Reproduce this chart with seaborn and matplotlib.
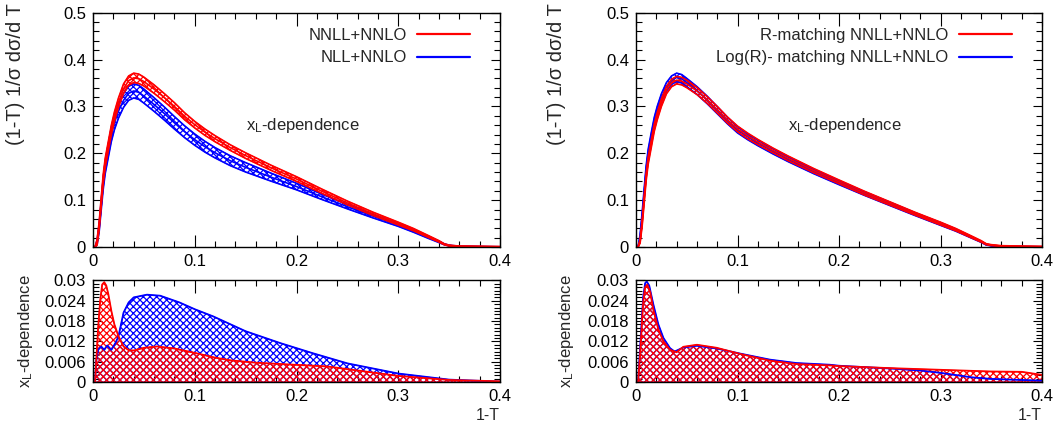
import numpy as np
import matplotlib
matplotlib.use("Agg")
import matplotlib.pyplot as plt
import seaborn as sns
from matplotlib.ticker import FixedLocator, FixedFormatter, MultipleLocator
from matplotlib.lines import Line2D

# ---------------- data ----------------
x_ticks = [0.0, 0.1, 0.2, 0.3, 0.4]
x_tick_labels = ["0", "0.1", "0.2", "0.3", "0.4"]
y_top_ticks = [0.0, 0.1, 0.2, 0.3, 0.4, 0.5]
y_top_labels = ["0", "0.1", "0.2", "0.3", "0.4", "0.5"]
y_bot_ticks = [0.0, 0.006, 0.012, 0.018, 0.024, 0.03]
y_bot_labels = ["0", "0.006", "0.012", "0.018", "0.024", "0.03"]

# top panels: common 1-T grid
x_top = [0.002, 0.004, 0.006, 0.008, 0.010, 0.012, 0.015, 0.018, 0.021, 0.025,
         0.030, 0.035, 0.040, 0.045, 0.050, 0.060, 0.070, 0.080, 0.090, 0.100,
         0.110, 0.120, 0.135, 0.150, 0.175, 0.200, 0.225, 0.250, 0.275, 0.300,
         0.315, 0.330, 0.340, 0.345, 0.350, 0.360, 0.380, 0.400]

# left top: NNLL+NNLO (red) and NLL+NNLO (blue): central value and half band width
nnll_center = [0, 0.01, 0.045, 0.095, 0.145, 0.18, 0.215, 0.25, 0.278, 0.308,
               0.338, 0.355, 0.361, 0.359, 0.353, 0.337, 0.319, 0.300, 0.279, 0.261,
               0.245, 0.231, 0.212, 0.195, 0.169, 0.145, 0.119, 0.094, 0.071, 0.050,
               0.037, 0.022, 0.012, 0.006, 0.003, 0.0015, 0.001, 0.0005]
nnll_halfwidth = [0, 0.006, 0.008, 0.009, 0.01, 0.01, 0.01, 0.01, 0.01, 0.01,
                  0.01, 0.01, 0.01, 0.01, 0.0095, 0.009, 0.0085, 0.008, 0.0075, 0.007,
                  0.0068, 0.0065, 0.006, 0.006, 0.0055, 0.005, 0.0045, 0.004, 0.0035, 0.003,
                  0.0025, 0.002, 0.0015, 0.001, 0.001, 0.0005, 0.0005, 0.0005]
nll_center = [0, 0.01, 0.04, 0.088, 0.135, 0.17, 0.205, 0.24, 0.265, 0.29,
              0.313, 0.328, 0.333, 0.330, 0.322, 0.304, 0.285, 0.265, 0.246, 0.229,
              0.214, 0.201, 0.184, 0.170, 0.149, 0.129, 0.107, 0.086, 0.066, 0.047,
              0.034, 0.020, 0.011, 0.006, 0.003, 0.0012, 0.0006, 0.0003]
nll_halfwidth = [0, 0.005, 0.008, 0.01, 0.012, 0.013, 0.014, 0.015, 0.015, 0.015,
                 0.015, 0.015, 0.015, 0.015, 0.015, 0.0145, 0.014, 0.0133, 0.0126, 0.012,
                 0.0115, 0.011, 0.0105, 0.010, 0.0085, 0.007, 0.0057, 0.0046, 0.0038, 0.003,
                 0.0025, 0.002, 0.0015, 0.001, 0.0008, 0.0005, 0.0003, 0.0002]

# right top: R-matching (red) and Log(R)-matching (blue)
rmatch_center = [0, 0.012, 0.05, 0.1, 0.15, 0.185, 0.22, 0.255, 0.28, 0.308,
                 0.335, 0.350, 0.356, 0.354, 0.348, 0.333, 0.314, 0.293, 0.271, 0.252,
                 0.237, 0.224, 0.206, 0.189, 0.163, 0.139, 0.115, 0.093, 0.071, 0.050,
                 0.037, 0.022, 0.012, 0.006, 0.004, 0.002, 0.0012, 0.0006]
rmatch_halfwidth = [0, 0.004, 0.006, 0.007, 0.008, 0.008, 0.008, 0.008, 0.008, 0.008,
                    0.008, 0.008, 0.008, 0.008, 0.008, 0.0075, 0.007, 0.007, 0.0065, 0.006,
                    0.006, 0.0055, 0.005, 0.005, 0.0045, 0.004, 0.004, 0.0035, 0.003, 0.003,
                    0.0025, 0.002, 0.0015, 0.001, 0.001, 0.0008, 0.0008, 0.0008]
logr_center = [0, 0.02, 0.065, 0.115, 0.165, 0.2, 0.235, 0.268, 0.292, 0.318,
               0.342, 0.356, 0.362, 0.359, 0.351, 0.334, 0.314, 0.292, 0.270, 0.250,
               0.235, 0.222, 0.204, 0.187, 0.161, 0.137, 0.114, 0.092, 0.070, 0.049,
               0.036, 0.021, 0.011, 0.005, 0.003, 0.0012, 0.0006, 0.0003]
logr_halfwidth = [0, 0.006, 0.008, 0.009, 0.009, 0.009, 0.009, 0.009, 0.009, 0.009,
                  0.009, 0.009, 0.009, 0.009, 0.0088, 0.0083, 0.008, 0.0075, 0.007, 0.0065,
                  0.006, 0.0058, 0.0055, 0.005, 0.0045, 0.004, 0.0038, 0.0035, 0.003, 0.0028,
                  0.0022, 0.0015, 0.001, 0.0008, 0.0006, 0.0004, 0.0003, 0.0002]

# bottom-left: x_L dependence
xl_nnll_x = [0.002, 0.0035, 0.005, 0.007, 0.009, 0.011, 0.013, 0.015, 0.018, 0.021,
             0.025, 0.030, 0.035, 0.040, 0.050, 0.063, 0.080, 0.100, 0.120, 0.135,
             0.160, 0.185, 0.230, 0.250, 0.300, 0.350, 0.400]
xl_nnll_y = [0, 0.008, 0.016, 0.024, 0.0288, 0.0295, 0.0285, 0.026, 0.021, 0.017,
             0.0135, 0.0105, 0.0094, 0.0093, 0.0101, 0.0105, 0.0099, 0.0086, 0.0072, 0.0064,
             0.0057, 0.0053, 0.0046, 0.0038, 0.0018, 0.0006, 0.0002]
xl_nll_x = [0.002, 0.003, 0.005, 0.008, 0.011, 0.014, 0.018, 0.022, 0.025, 0.030,
            0.035, 0.040, 0.053, 0.066, 0.085, 0.100, 0.118, 0.150, 0.184, 0.200,
            0.216, 0.250, 0.300, 0.350, 0.400]
xl_nll_y = [0, 0.006, 0.0095, 0.0105, 0.0095, 0.0108, 0.0095, 0.0115, 0.0135, 0.0205,
            0.0235, 0.025, 0.0258, 0.0255, 0.0235, 0.0215, 0.0194, 0.015, 0.0115, 0.010,
            0.0085, 0.0055, 0.0025, 0.0007, 0.0001]

# bottom-right: x_L dependence
xl_r_x = [0.002, 0.004, 0.007, 0.009, 0.011, 0.014, 0.017, 0.022, 0.027, 0.0335,
          0.040, 0.0466, 0.060, 0.0795, 0.1025, 0.132, 0.158, 0.191, 0.200, 0.250,
          0.300, 0.350, 0.380, 0.400]
xl_r_y = [0, 0.008, 0.0234, 0.0280, 0.0288, 0.0265, 0.0214, 0.0155, 0.012, 0.0095,
          0.0088, 0.0104, 0.011, 0.0101, 0.0083, 0.0063, 0.0053, 0.0049, 0.0047, 0.0041,
          0.0036, 0.0031, 0.003, 0.0021]
xl_logr_x = [0.002, 0.004, 0.007, 0.009, 0.0105, 0.013, 0.017, 0.022, 0.027, 0.0335,
             0.038, 0.0466, 0.060, 0.0795, 0.1025, 0.132, 0.158, 0.191, 0.200, 0.250,
             0.280, 0.300, 0.330, 0.350, 0.400]
xl_logr_y = [0, 0.01, 0.025, 0.0292, 0.0297, 0.0285, 0.023, 0.017, 0.013, 0.010,
             0.009, 0.0102, 0.0107, 0.0099, 0.0084, 0.0066, 0.0056, 0.0051, 0.0048, 0.004,
             0.0034, 0.0027, 0.0014, 0.0009, 0.0004]

legend_left = ["NNLL+NNLO", "NLL+NNLO"]
legend_right = ["R-matching NNLL+NNLO", "Log(R)- matching NNLL+NNLO"]
RED = "#ff0000"
BLUE = "#0000ff"

# ---------------- style ----------------
sns.set_style("ticks")
plt.rcParams.update({
    "font.family": ["Liberation Sans", "DejaVu Sans"],
    "mathtext.default": "regular",
    "hatch.linewidth": 0.9,
    "axes.linewidth": 1.0,
    "axes.edgecolor": "black",
})

fig = plt.figure(figsize=(10.62, 4.26), dpi=100)
ax_lt = fig.add_axes([0.0876, 0.4202, 0.3832, 0.5500])
ax_lb = fig.add_axes([0.0876, 0.1033, 0.3832, 0.2383])
ax_rt = fig.add_axes([0.5989, 0.4202, 0.3823, 0.5500])
ax_rb = fig.add_axes([0.5989, 0.1033, 0.3823, 0.2383])


def style_axes(ax, yt, yl, yminor, ylim):
    ax.set_xlim(0, 0.4)
    ax.set_ylim(*ylim)
    ax.xaxis.set_major_locator(FixedLocator(x_ticks))
    ax.xaxis.set_major_formatter(FixedFormatter(x_tick_labels))
    ax.xaxis.set_minor_locator(MultipleLocator(0.02))
    ax.yaxis.set_major_locator(FixedLocator(yt))
    ax.yaxis.set_major_formatter(FixedFormatter(yl))
    ax.yaxis.set_minor_locator(MultipleLocator(yminor))
    ax.tick_params(which="both", direction="in", top=True, right=True,
                   colors="black", labelsize=12)
    ax.tick_params(axis="x", which="major", length=9, width=0.8, pad=5)
    ax.tick_params(axis="x", which="minor", length=4, width=0.8)
    ax.tick_params(axis="y", which="major", length=6.5, width=0.8, pad=5)
    ax.tick_params(axis="y", which="minor", length=4, width=0.8)
    for s in ax.spines.values():
        s.set_visible(True)
        s.set_color("black")
        s.set_linewidth(1.0)
    ax.set_xlabel("")
    ax.set_ylabel("")


def band(ax, x, center, hw, color):
    c = np.asarray(center)
    h = np.asarray(hw)
    lo, hi = c - h, c + h
    ax.fill_between(x, lo, hi, facecolor="none", edgecolor=color,
                    hatch="xxxxx", linewidth=0.6)
    for arr in (lo, c, hi):
        sns.lineplot(x=x, y=arr, ax=ax, color=color, linewidth=1.2,
                     legend=False, sort=False, estimator=None)


def area(ax, x, y, color):
    ax.fill_between(x, 0, y, facecolor="none", edgecolor=color,
                    hatch="xxxxx", linewidth=0.6)
    sns.lineplot(x=x, y=y, ax=ax, color=color, linewidth=1.3,
                 legend=False, sort=False, estimator=None)


# ---- left top
band(ax_lt, x_top, nll_center, nll_halfwidth, BLUE)
band(ax_lt, x_top, nnll_center, nnll_halfwidth, RED)
style_axes(ax_lt, y_top_ticks, y_top_labels, 0.02, (0, 0.5))

# ---- right top
band(ax_rt, x_top, logr_center, logr_halfwidth, BLUE)
band(ax_rt, x_top, rmatch_center, rmatch_halfwidth, RED)
style_axes(ax_rt, y_top_ticks, y_top_labels, 0.02, (0, 0.5))

# ---- left bottom
area(ax_lb, xl_nll_x, xl_nll_y, BLUE)
area(ax_lb, xl_nnll_x, xl_nnll_y, RED)
style_axes(ax_lb, y_bot_ticks, y_bot_labels, 0.001, (0, 0.03))

# ---- right bottom
area(ax_rb, xl_logr_x, xl_logr_y, BLUE)
area(ax_rb, xl_r_x, xl_r_y, RED)
style_axes(ax_rb, y_bot_ticks, y_bot_labels, 0.001, (0, 0.03))

# labels
for ax, xc in ((ax_lt, -0.19), (ax_rt, -0.195)):
    ax.set_ylabel("(1-T) 1/σ dσ/d T", fontsize=14.5)
    ax.yaxis.label.set_verticalalignment("center")
    ax.yaxis.set_label_coords(xc, 0.74)
    ax.text(0.15, 0.26, "$x_L$-dependence", fontsize=12, ha="left", va="center")

for ax, xc in ((ax_lb, -0.166), (ax_rb, -0.172)):
    ax.set_ylabel("$x_L$-dependence", fontsize=12)
    ax.yaxis.label.set_verticalalignment("center")
    ax.yaxis.set_label_coords(xc, 0.5)
    ax.set_xlabel("1-T", fontsize=11.5, loc="right", labelpad=3)

# legends
for ax, labels in ((ax_lt, legend_left), (ax_rt, legend_right)):
    handles = [Line2D([], [], color=RED, linewidth=1.6),
               Line2D([], [], color=BLUE, linewidth=1.6)]
    ax.legend(handles, labels, loc="upper right", bbox_to_anchor=(0.926, 0.935),
              frameon=False, markerfirst=False, handlelength=3.2,
              handletextpad=0.6, labelspacing=0.45, borderpad=0,
              borderaxespad=0, fontsize=12)

fig.savefig("out.png", dpi=100)
